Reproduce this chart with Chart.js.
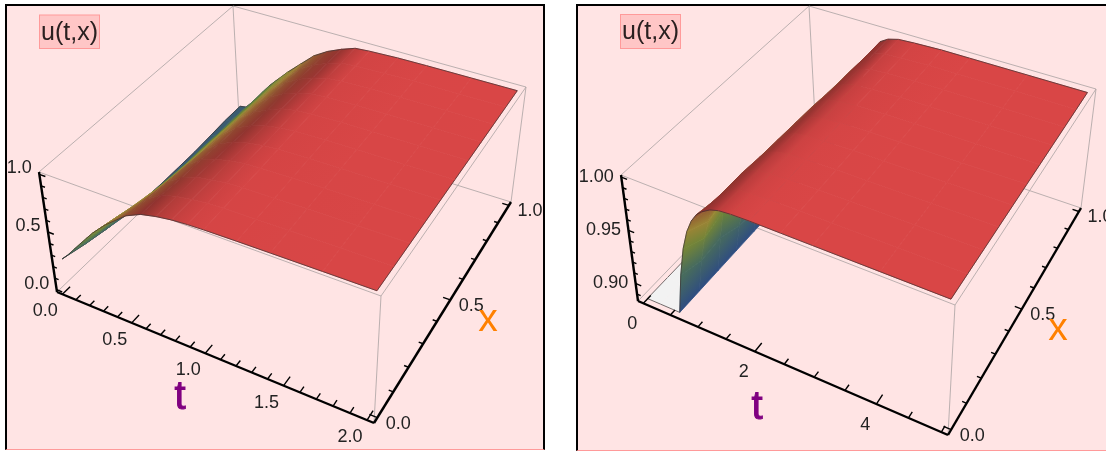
<!DOCTYPE html>
<html>
<head>
<meta charset="utf-8">
<title>u(t,x)</title>
<script src="https://cdn.jsdelivr.net/npm/chart.js@4"></script>
<style>
    html, body { margin: 0; padding: 0; background: #fff; width: 1106px; height: 451px; overflow: hidden; }
    .frame { position: absolute; background: #ffe4e4; box-sizing: border-box; border-top: 2px solid #000; border-bottom: 1px solid #ff9a9a; }
    #frameLeft { left: 5px; top: 4px; width: 540px; height: 446px; border-left: 2px solid #000; border-right: 2px solid #000; }
    #frameRight { left: 576px; top: 4px; width: 530px; height: 447px; border-left: 2px solid #000; }
    canvas { position: absolute; top: 0; }
</style>
</head>
<body>
<div class="frame" id="frameLeft"></div>
<div class="frame" id="frameRight"></div>
<canvas id="leftChart" width="560" height="451" style="left:0"></canvas>
<canvas id="rightChart" width="546" height="451" style="left:560px"></canvas>
<script>
const xGrid = [0, 0.1, 0.2, 0.3, 0.4, 0.5, 0.6, 0.7, 0.8, 0.9, 1];

// left plot, one row of u per t
const leftT = [0, 0.05, 0.1, 0.15, 0.2, 0.25, 0.3, 0.35, 0.4, 0.5, 0.6, 0.7, 0.8, 0.9, 1, 1.2, 1.4, 1.7, 2];
const leftU = [
    [0.25, 0.20, 0.16, 0.13, 0.11, 0.10, 0.10, 0.10, 0.11, 0.12, 0.12],
    [0.31, 0.26, 0.22, 0.18, 0.16, 0.15, 0.15, 0.14, 0.14, 0.14, 0.13],
    [0.38, 0.33, 0.29, 0.25, 0.23, 0.21, 0.21, 0.20, 0.20, 0.19, 0.19],
    [0.45, 0.40, 0.36, 0.32, 0.30, 0.28, 0.27, 0.27, 0.26, 0.26, 0.25],
    [0.52, 0.47, 0.42, 0.39, 0.37, 0.35, 0.35, 0.34, 0.34, 0.33, 0.33],
    [0.59, 0.54, 0.49, 0.45, 0.43, 0.42, 0.42, 0.41, 0.41, 0.40, 0.40],
    [0.65, 0.60, 0.55, 0.52, 0.50, 0.49, 0.48, 0.47, 0.47, 0.46, 0.46],
    [0.71, 0.66, 0.62, 0.58, 0.57, 0.56, 0.55, 0.54, 0.53, 0.53, 0.52],
    [0.76, 0.72, 0.68, 0.65, 0.63, 0.63, 0.62, 0.61, 0.60, 0.59, 0.58],
    [0.86, 0.83, 0.81, 0.79, 0.77, 0.75, 0.74, 0.73, 0.72, 0.70, 0.69],
    [0.92, 0.91, 0.89, 0.88, 0.86, 0.85, 0.84, 0.83, 0.82, 0.81, 0.80],
    [0.95, 0.945, 0.94, 0.93, 0.92, 0.91, 0.90, 0.90, 0.89, 0.88, 0.875],
    [0.97, 0.965, 0.96, 0.96, 0.955, 0.95, 0.95, 0.945, 0.94, 0.935, 0.93],
    [0.98, 0.98, 0.98, 0.978, 0.976, 0.975, 0.975, 0.975, 0.975, 0.975, 0.975],
    [0.985, 0.985, 0.985, 0.985, 0.985, 0.985, 0.985, 0.985, 0.985, 0.985, 0.985],
    [0.99, 0.99, 0.99, 0.99, 0.992, 0.992, 0.993, 0.993, 0.994, 0.994, 0.995],
    [0.993, 0.993, 0.994, 0.994, 0.995, 0.996, 0.996, 0.997, 0.997, 0.998, 0.998],
    [0.997, 0.997, 0.997, 0.998, 0.998, 0.998, 0.998, 0.999, 0.999, 0.999, 0.999],
    [1, 1, 1, 1, 1, 1, 1, 1, 1, 1, 1]
];
const leftTTicks = [0, 0.1, 0.2, 0.3, 0.4, 0.5, 0.6, 0.7, 0.8, 0.9, 1, 1.1, 1.2, 1.3, 1.4, 1.5, 1.6, 1.7, 1.8, 1.9, 2];
const leftTLabels = [[0, '0.0'], [0.5, '0.5'], [1, '1.0'], [1.5, '1.5'], [2, '2.0']];
const leftZTicks = [0, 0.1, 0.2, 0.3, 0.4, 0.5, 0.6, 0.7, 0.8, 0.9, 1];
const leftZLabels = [[0, '0.0'], [0.5, '0.5'], [1, '1.0']];

// right plot, values under the floor of the box are cut off there
const rightT = [0, 0.25, 0.5, 0.6, 0.7, 0.8, 0.9, 1, 1.1, 1.2, 1.35, 1.5, 1.7, 2, 2.5, 3, 4, 5];
const rightU = [
    [0.884, 0.884, 0.884, 0.884, 0.884, 0.884, 0.884, 0.884, 0.884, 0.884, 0.884],
    [0.884, 0.884, 0.884, 0.884, 0.884, 0.884, 0.884, 0.884, 0.884, 0.884, 0.884],
    [0.884, 0.884, 0.884, 0.884, 0.884, 0.884, 0.884, 0.884, 0.884, 0.884, 0.884],
    [0.884, 0.884, 0.884, 0.884, 0.884, 0.884, 0.884, 0.884, 0.884, 0.884, 0.884],
    [0.921, 0.915, 0.917, 0.910, 0.908, 0.903, 0.903, 0.898, 0.895, 0.892, 0.890],
    [0.948, 0.938, 0.945, 0.932, 0.936, 0.926, 0.925, 0.920, 0.917, 0.913, 0.910],
    [0.966, 0.956, 0.962, 0.950, 0.954, 0.944, 0.943, 0.938, 0.935, 0.932, 0.930],
    [0.978, 0.972, 0.973, 0.968, 0.966, 0.962, 0.959, 0.956, 0.954, 0.952, 0.950],
    [0.986, 0.982, 0.982, 0.979, 0.978, 0.975, 0.973, 0.971, 0.970, 0.968, 0.966],
    [0.991, 0.989, 0.989, 0.987, 0.986, 0.985, 0.984, 0.982, 0.981, 0.980, 0.978],
    [0.996, 0.995, 0.995, 0.994, 0.993, 0.992, 0.992, 0.991, 0.991, 0.990, 0.990],
    [0.9985, 0.998, 0.998, 0.997, 0.997, 0.996, 0.996, 0.995, 0.995, 0.995, 0.995],
    [0.9995, 0.9995, 0.999, 0.999, 0.999, 0.998, 0.998, 0.998, 0.998, 0.998, 0.998],
    [1, 1, 1, 0.9995, 0.9995, 0.9995, 0.9995, 0.999, 0.999, 0.999, 0.999],
    [1, 1, 1, 1, 1, 1, 1, 1, 1, 1, 1],
    [1, 1, 1, 1, 1, 1, 1, 1, 1, 1, 1],
    [1, 1, 1, 1, 1, 1, 1, 1, 1, 1, 1],
    [1, 1, 1, 1, 1, 1, 1, 1, 1, 1, 1]
];
const rightTTicks = [0, 0.5, 1, 1.5, 2, 2.5, 3, 3.5, 4, 4.5, 5];
const rightTLabels = [[0, '0'], [2, '2'], [4, '4']];
const rightZTicks = [0.89, 0.9, 0.91, 0.92, 0.93, 0.94, 0.95, 0.96, 0.97, 0.98, 0.99, 1];
const rightZLabels = [[0.9, '0.90'], [0.95, '0.95'], [1, '1.00']];

const xTicks = [0, 0.1, 0.2, 0.3, 0.4, 0.5, 0.6, 0.7, 0.8, 0.9, 1];
const xLabels = [[0, '0.0'], [0.5, '0.5'], [1, '1.0']];

const colorStops = [
    [0, [47, 77, 130]], [0.3, [72, 108, 92]], [0.45, [100, 128, 58]], [0.62, [150, 140, 52]],
    [0.8, [165, 100, 56]], [0.9, [190, 68, 62]], [0.96, [217, 70, 70]], [1, [217, 70, 70]]
];

function quadMap(p0, p1, p2, p3) {
    const dx1 = p1[0] - p2[0], dx2 = p3[0] - p2[0], sx = p0[0] - p1[0] + p2[0] - p3[0];
    const dy1 = p1[1] - p2[1], dy2 = p3[1] - p2[1], sy = p0[1] - p1[1] + p2[1] - p3[1];
    const den = dx1 * dy2 - dx2 * dy1;
    const g = (sx * dy2 - dx2 * sy) / den;
    const h = (dx1 * sy - sx * dy1) / den;
    return (a, b) => {
        const w = g * a + h * b + 1;
        return [
            ((p1[0] - p0[0] + g * p1[0]) * a + (p3[0] - p0[0] + h * p3[0]) * b + p0[0]) / w,
            ((p1[1] - p0[1] + g * p1[1]) * a + (p3[1] - p0[1] + h * p3[1]) * b + p0[1]) / w
        ];
    };
}

function makeProjection(box) {
    const floor = quadMap(box.floor[0], box.floor[1], box.floor[2], box.floor[3]);
    const top = quadMap(box.top[0], box.top[1], box.top[2], box.top[3]);
    return (t, x, z) => {
        const a = (t - box.t[0]) / (box.t[1] - box.t[0]);
        const b = (x - box.x[0]) / (box.x[1] - box.x[0]);
        const c = (z - box.z[0]) / (box.z[1] - box.z[0]);
        const p = floor(a, b), q = top(a, b);
        return { x: p[0] + (q[0] - p[0]) * c, y: p[1] + (q[1] - p[1]) * c };
    };
}

function colorFor(n, slope) {
    let i = 0;
    while (i < colorStops.length - 2 && n > colorStops[i + 1][0]) i++;
    const [n0, c0] = colorStops[i], [n1, c1] = colorStops[i + 1];
    const f = Math.max(0, Math.min(1, (n - n0) / (n1 - n0)));
    const weight = Math.max(0, Math.min(1, (n - 0.7) / 0.2));
    const shade = 1 - 0.25 * Math.min(1, slope) * weight;
    const c = c0.map((v, k) => Math.round((v + (c1[k] - v) * f) * shade));
    return `rgb(${c[0]},${c[1]},${c[2]})`;
}

function quadGradient(ctx) {
    const { from, to } = ctx.dataset.shadeInfo;
    const { x, y } = ctx.chart.scales;
    const ends = [x.getPixelForValue(from.p.x), y.getPixelForValue(from.p.y), x.getPixelForValue(to.p.x), y.getPixelForValue(to.p.y)];
    // options are read once before the layout has run
    if (!ends.every(Number.isFinite)) return from.color;
    const g = ctx.chart.ctx.createLinearGradient(...ends);
    g.addColorStop(0, from.color);
    g.addColorStop(1, to.color);
    return g;
}

// move the gradient end so the colour bands run along the quad's x edges
function squareToEdge(from, to, edgeStart, edgeEnd) {
    const dx = edgeEnd.x - edgeStart.x, dy = edgeEnd.y - edgeStart.y;
    const vx = to.p.x - from.p.x, vy = to.p.y - from.p.y;
    const along = (vx * dx + vy * dy) / (dx * dx + dy * dy);
    let nx = vx - along * dx, ny = vy - along * dy;
    const size = Math.hypot(nx, ny), len = Math.hypot(dx, dy);
    if (size < 0.2) {
        nx = -dy / len * 0.2;
        ny = dx / len * 0.2;
    }
    to.p = { x: from.p.x + nx, y: from.p.y + ny };
}

function lineSet(points, color, width) {
    return { data: points, showLine: true, pointRadius: 0, borderColor: color, borderWidth: width, fill: false, clip: false };
}

function surfaceSets(panel, project) {
    const sets = [];
    const { tValues, uRows, box } = panel;
    const zSpan = box.z[1] - box.z[0], tSpan = box.t[1] - box.t[0];
    const last = xGrid.length - 1;
    const edge = '#3a3030';

    for (let i = 0; i < tValues.length - 1; i++) {
        // near side of the box is at large t and small x, so draw from the far corner forward
        for (let j = last - 1; j >= 0; j--) {
            const pts = [
                project(tValues[i], xGrid[j], uRows[i][j]),
                project(tValues[i + 1], xGrid[j], uRows[i + 1][j]),
                project(tValues[i + 1], xGrid[j + 1], uRows[i + 1][j + 1]),
                project(tValues[i], xGrid[j + 1], uRows[i][j + 1])
            ];
            const stop = (row) => {
                const u = (uRows[row][j] + uRows[row][j + 1]) / 2;
                const up = Math.min(row + 1, tValues.length - 1), down = Math.max(row - 1, 0);
                const slope = ((uRows[up][j] + uRows[up][j + 1]) - (uRows[down][j] + uRows[down][j + 1])) / 2 / zSpan
                    / ((tValues[up] - tValues[down]) / tSpan);
                return {
                    p: project(tValues[row], (xGrid[j] + xGrid[j + 1]) / 2, u),
                    color: colorFor((u - box.z[0]) / zSpan, slope)
                };
            };
            const capped = panel.floorCut && uRows[i][j] <= panel.floorCut && uRows[i + 1][j] <= panel.floorCut
                && uRows[i][j + 1] <= panel.floorCut && uRows[i + 1][j + 1] <= panel.floorCut;
            if (capped) {
                sets.push({ data: pts, showLine: true, pointRadius: 0, borderColor: '#f2f2f2', borderWidth: 0.5, backgroundColor: '#f2f2f2', fill: 'shape', clip: false });
            } else {
                const from = stop(i), to = stop(i + 1);
                squareToEdge(from, to, pts[0], pts[3]);
                sets.push({
                    data: [...pts, pts[0]], showLine: true, pointRadius: 0, borderWidth: 0.8, fill: 'shape', clip: false,
                    shadeInfo: { from, to }, backgroundColor: quadGradient, borderColor: quadGradient
                });
            }
            if (i === 0) sets.push(lineSet([pts[0], pts[3]], edge, 0.7));
            if (j === last - 1) sets.push(lineSet([pts[2], pts[3]], edge, 0.7));
            if (j === 0) sets.push(lineSet([pts[0], pts[1]], edge, 0.7));
            if (i === tValues.length - 2) sets.push(lineSet([pts[1], pts[2]], edge, 0.7));
        }
    }
    return sets;
}

function boxSets(box, project) {
    const [t0, t1] = box.t, [x0, x1] = box.x, [z0, z1] = box.z;
    const grey = '#aaa2a2';
    const segs = [
        [[t0, x1, z0], [t1, x1, z0]], [[t0, x0, z0], [t0, x1, z0]], [[t0, x1, z0], [t0, x1, z1]],
        [[t0, x0, z1], [t1, x0, z1]], [[t1, x0, z1], [t1, x1, z1]], [[t1, x1, z1], [t0, x1, z1]], [[t0, x1, z1], [t0, x0, z1]],
        [[t1, x0, z0], [t1, x0, z1]], [[t1, x1, z0], [t1, x1, z1]]
    ];
    return segs.map(s => lineSet([project(...s[0]), project(...s[1])], grey, 0.8));
}

function axisSets(panel, project) {
    const { box, tTicks, zTicks } = panel;
    const [t0, t1] = box.t, [x0, x1] = box.x, [z0, z1] = box.z;
    const tLen = t1 - t0, xLen = x1 - x0;
    const sets = [
        lineSet([project(t0, x0, z0), project(t1, x0, z0)], '#000', 2.4),
        lineSet([project(t1, x0, z0), project(t1, x1, z0)], '#000', 2.4),
        lineSet([project(t0, x0, z0), project(t0, x0, z1)], '#000', 2.4)
    ];
    const isMajor = (v, labels) => labels.some(l => Math.abs(l[0] - v) < 1e-6);
    tTicks.forEach(t => {
        const size = (isMajor(t, panel.tLabels) ? 0.035 : 0.022) * xLen;
        sets.push(lineSet([project(t, x0, z0), project(t, x0 + size, z0)], '#000', 1.4));
    });
    xTicks.forEach(x => {
        const size = (isMajor(x, xLabels) ? 0.022 : 0.013) * tLen;
        sets.push(lineSet([project(t1, x, z0), project(t1 - size, x, z0)], '#000', 1.4));
    });
    zTicks.forEach(z => {
        const size = (isMajor(z, panel.zLabels) ? 0.02 : 0.013) * tLen;
        sets.push(lineSet([project(t0, x0, z), project(t0 + size, x0, z)], '#000', 1.4));
    });
    return sets;
}

function textPlugin(panel, project) {
    return {
        id: 'panelText',
        afterDraw(chart) {
            const { ctx, scales } = chart;
            const px = p => [scales.x.getPixelForValue(p.x), scales.y.getPixelForValue(p.y)];
            const { box } = panel;
            ctx.save();
            ctx.textAlign = 'center';
            ctx.textBaseline = 'middle';
            ctx.font = '18px "Liberation Sans"';
            ctx.fillStyle = '#222';
            const put = (list, at, off) => list.forEach(l => {
                const [a, b] = px(at(l[0]));
                ctx.fillText(l[1], a + off[0], b + off[1]);
            });
            put(panel.tLabels, t => project(t, box.x[0], box.z[0]), panel.tOffset);
            put(xLabels, x => project(box.t[1], x, box.z[0]), panel.xOffset);
            put(panel.zLabels, z => project(box.t[0], box.x[0], z), panel.zOffset);

            const [bx, by, bw, bh] = panel.titleBox;
            const left = scales.x.getPixelForValue(bx), tp = scales.y.getPixelForValue(by);
            ctx.fillStyle = '#ffc6c6';
            ctx.strokeStyle = '#ff9a9a';
            ctx.lineWidth = 1;
            ctx.fillRect(left, tp, bw, bh);
            ctx.strokeRect(left, tp, bw, bh);
            ctx.fillStyle = '#2a2020';
            ctx.font = '25px "Liberation Sans"';
            ctx.fillText('u(t,x)', left + bw / 2, tp + bh / 2 + 1);

            const tx = scales.x.getPixelForValue(panel.tTitle[0]), ty = scales.y.getPixelForValue(panel.tTitle[1]);
            ctx.fillStyle = '#800080';
            ctx.strokeStyle = '#800080';
            ctx.lineWidth = 1;
            ctx.font = '40px "Liberation Sans"';
            ctx.fillText('t', tx, ty);
            ctx.strokeText('t', tx, ty);
            ctx.fillStyle = '#ff8000';
            ctx.font = '39px "Liberation Sans"';
            ctx.fillText('x', scales.x.getPixelForValue(panel.xTitle[0]), scales.y.getPixelForValue(panel.xTitle[1]));
            ctx.restore();
        }
    };
}

function buildPanel(canvasId, range, panel) {
    const project = makeProjection(panel.box);
    const drawList = [...boxSets(panel.box, project), ...surfaceSets(panel, project), ...axisSets(panel, project)];
    new Chart(document.getElementById(canvasId), {
        type: 'scatter',
        // chart.js paints the first dataset last
        data: { datasets: drawList.reverse() },
        options: {
            responsive: false,
            animation: false,
            events: [],
            layout: { padding: 0 },
            scales: {
                x: { type: 'linear', display: false, min: range[0], max: range[1] },
                y: { type: 'linear', display: false, min: 0, max: 451, reverse: true }
            },
            plugins: { legend: { display: false }, tooltip: { enabled: false } }
        },
        plugins: [textPlugin(panel, project)]
    });
}

buildPanel('leftChart', [0, 560], {
    tValues: leftT, uRows: leftU,
    tTicks: leftTTicks, tLabels: leftTLabels, zTicks: leftZTicks, zLabels: leftZLabels,
    box: {
        t: [-0.04, 2.04], x: [-0.02, 1.02], z: [-0.02, 1.02],
        floor: [[57, 292], [374, 423], [511, 202], [239, 117]],
        top: [[39, 172], [381, 296], [526, 87], [233, 6]]
    },
    tOffset: [-17, 17], xOffset: [21, 6], zOffset: [-20, -6],
    titleBox: [39.5, 15, 60, 33.5], tTitle: [180, 398], xTitle: [488, 320]
});

buildPanel('rightChart', [560, 1106], {
    tValues: rightT, uRows: rightU, floorCut: 0.884,
    tTicks: rightTTicks, tLabels: rightTLabels, zTicks: rightZTicks, zLabels: rightZLabels,
    box: {
        t: [-0.1, 5.1], x: [-0.02, 1.02], z: [0.8835, 1.002],
        floor: [[638, 301], [948, 435], [1081, 208], [815, 118]],
        top: [[621, 175], [955, 305], [1096, 89], [809, 6]]
    },
    tOffset: [-11, 21], xOffset: [21, 6], zOffset: [-25, 0],
    titleBox: [620.5, 14.5, 60, 34], tTitle: [757, 408], xTitle: [1058, 329]
});
</script>
</body>
</html>
